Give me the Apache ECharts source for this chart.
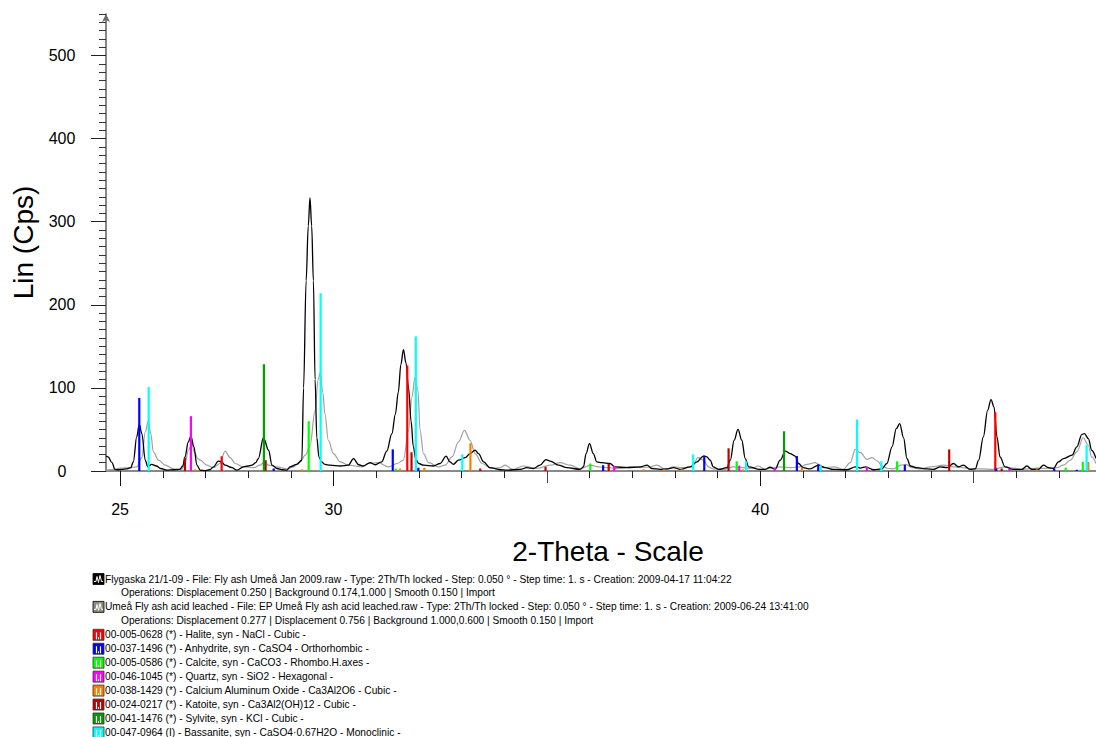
<!DOCTYPE html>
<html><head><meta charset="utf-8">
<script src="https://cdn.jsdelivr.net/npm/echarts@6/dist/echarts.min.js"></script>
<style>html,body{margin:0;padding:0;background:#fff}#c{width:1096px;height:737px}</style>
</head><body><div id="c"></div>
<script>
// ---- axis ranges / ticks ----
const xMin = 24.67, xMax = 47.87;
const yMin = 0, yMax = 550;
const yMinorStep = 10, yMajorStep = 100;
const xMinorTicks = [25,26,27,28,29,30,31,32,33,34,35,36,37,38,39,40,41,42,43,44,45,46,47];
const xMidTicks = [35,45];
const xMajorTicks = [25,30,40];
const xTickLabels = [25,30,40];
const yTickLabels = [0,100,200,300,400,500];

// ---- measured patterns [2theta, Cps] ----
const flygaska = [[24.67,18],[24.72,17],[24.81,10],[24.88,2],[24.95,1.5],[25.05,2],[25.15,2.5],[25.25,4],[25.31,11],[25.39,41],[25.45,56],[25.51,45],[25.59,13],[25.65,5],[25.74,8],[25.85,6],[25.95,3],[26.1,1],[26.25,1.5],[26.4,2],[26.47,6],[26.52,17],[26.6,35],[26.66,42],[26.73,29],[26.8,7],[26.88,1],[27.0,0.5],[27.1,1.5],[27.19,5],[27.3,12],[27.38,11],[27.46,7],[27.62,4],[27.74,1],[27.89,5],[28.0,6],[28.09,7],[28.18,10],[28.24,15],[28.36,40],[28.48,25],[28.56,7],[28.68,3],[28.8,1.5],[28.91,1],[28.98,5],[29.14,8],[29.26,13],[29.3,100],[29.36,229],[29.41,295],[29.45,329],[29.49,295],[29.53,229],[29.57,110],[29.61,40],[29.66,17],[29.72,11],[29.8,8],[29.92,7],[30.16,6],[30.35,7],[30.47,15],[30.59,7.5],[30.7,6],[30.86,10],[30.98,7.5],[31.13,11],[31.25,24],[31.37,45],[31.45,68],[31.52,95],[31.58,128],[31.64,146],[31.7,130],[31.76,100],[31.82,60],[31.87,30],[31.93,14],[32.0,9],[32.11,7],[32.34,6],[32.5,9],[32.64,18],[32.73,11],[32.81,8],[32.93,13],[33.09,16],[33.2,21],[33.32,25],[33.4,21],[33.52,11],[33.67,4],[33.91,1.5],[34.06,1],[34.38,2],[34.53,4],[34.69,3],[34.84,7],[34.98,13.7],[35.08,12],[35.27,7],[35.47,4],[35.78,2],[35.86,5],[35.92,21],[36.0,33],[36.09,21],[36.17,11],[36.29,10],[36.48,9],[36.6,5],[36.88,4],[37.19,5],[37.35,7],[37.46,3],[37.66,2],[37.81,2.5],[37.97,4],[38.13,2],[38.36,5],[38.52,11],[38.67,18],[38.75,17],[38.83,13],[38.9,5],[39.02,2],[39.22,4],[39.3,13],[39.39,37],[39.48,50],[39.57,37],[39.65,15],[39.73,5],[39.99,2],[40.12,2],[40.23,4.5],[40.35,2],[40.47,13],[40.59,24],[40.7,21],[40.82,18],[40.9,9],[41.01,4],[41.17,2.5],[41.37,7],[41.52,4],[41.72,2],[42.03,1.5],[42.23,5],[42.35,3.5],[42.47,5],[42.66,1.5],[42.85,2.5],[42.97,9],[43.09,29],[43.19,51],[43.27,57],[43.36,40],[43.44,15],[43.52,6],[43.67,4],[43.91,2.5],[44.06,2],[44.22,5],[44.38,4],[44.53,9],[44.65,5],[44.76,7],[44.92,2],[45.04,2.5],[45.12,13],[45.23,41],[45.33,73],[45.41,86],[45.48,77],[45.55,41],[45.62,17],[45.74,5],[45.93,2],[46.13,2],[46.25,6],[46.37,2],[46.52,2],[46.64,7],[46.76,4],[46.87,3],[46.99,11],[47.11,15],[47.31,19],[47.42,29],[47.54,44],[47.6,45],[47.69,39],[47.77,25],[47.87,15]];

const umeaLeached = [[24.67,1],[24.85,2],[25.0,3.5],[25.24,4],[25.39,5],[25.51,16],[25.59,47],[25.66,60],[25.72,45],[25.78,23],[25.9,13],[26.06,7],[26.25,2.5],[26.45,2],[26.52,9],[26.6,25],[26.68,32],[26.75,22],[26.82,15],[26.88,13],[27.03,7],[27.19,4],[27.34,9],[27.46,24],[27.58,16],[27.7,9],[27.89,5],[28.13,4],[28.28,7],[28.38,11],[28.48,7],[28.67,5],[28.91,2.5],[29.06,5],[29.22,11],[29.34,19],[29.45,30],[29.57,73],[29.64,110],[29.69,118],[29.75,95],[29.8,69],[29.88,37],[30.0,21],[30.16,11],[30.35,7],[30.67,5],[30.82,9],[31.05,10],[31.29,5],[31.49,9],[31.64,13],[31.76,49],[31.84,89],[31.91,113],[31.98,97],[32.03,49],[32.11,21],[32.23,10],[32.46,5],[32.62,7],[32.78,17],[32.93,35],[33.07,49],[33.2,37],[33.32,21],[33.48,9],[33.71,3],[33.91,4],[34.02,7],[34.2,2],[34.45,6],[34.76,3],[35.08,7],[35.31,10],[35.55,7],[35.78,2.5],[36.02,7],[36.21,5],[36.41,4],[36.68,3],[36.95,5],[37.19,4],[37.42,5],[37.58,7],[37.77,2],[37.97,5],[38.2,4],[38.4,5],[38.55,16],[38.67,13],[38.79,5],[38.9,2.5],[39.14,2],[39.38,5],[39.61,4],[39.8,3],[39.96,6],[40.12,2],[40.27,4],[40.47,5],[40.7,4],[40.94,5],[41.1,8],[41.29,10],[41.48,4],[41.72,5],[41.95,2],[42.11,10],[42.23,26],[42.35,22],[42.5,14],[42.62,16],[42.75,12],[42.85,6],[43.0,3],[43.12,2.5],[43.3,7],[43.42,8],[43.55,4],[43.75,2.5],[44.0,5],[44.3,7],[44.53,5],[44.76,4],[44.95,2.5],[45.2,2.5],[45.45,2],[45.74,5],[45.93,3.5],[46.13,2],[46.5,3.5],[46.75,3],[46.95,4],[47.11,7],[47.27,13],[47.42,23],[47.57,40],[47.69,31],[47.77,17],[47.87,9]];

// ---- reference patterns (stick positions) ----
const halite = [[27.38,17.7],[31.73,127],[45.51,70.7]];
const anhydrite = [[25.45,88],[28.6,3],[31.39,26],[31.99,4],[36.32,7],[38.69,18.5],[40.86,18],[41.36,8],[43.39,7.5],[45.53,3],[46.89,3],[47.42,1.5]];
const calcite = [[29.42,60],[31.46,3],[36.02,9],[39.45,11.7],[43.21,11.7],[47.16,4],[47.56,11]];
const quartz = [[26.66,66],[36.58,6],[39.51,6.5],[40.34,3],[42.5,5],[45.84,3]];
const caAlOxide = [[26.76,2],[29.26,2],[31.56,3],[32.13,4],[33.21,33.4],[37.27,2],[37.75,2],[38.16,2],[39.6,2],[40.98,4],[46.48,2],[47.69,11]];
const katoite = [[26.52,16],[28.41,13],[31.83,22.5],[33.44,3],[34.97,5],[36.45,8.5],[39.26,27.3],[44.43,26],[45.66,3]];
const sylvite = [[28.37,128.5],[40.56,47.8]];
const bassanite = [[25.67,101],[29.7,214],[31.93,162],[33.02,20],[38.43,20],[39.67,11.7],[41.42,7],[42.27,62],[42.84,11.7],[47.65,31]];

const phaseData = [halite, anhydrite, calcite, quartz, caAlOxide, katoite, sylvite, bassanite];
const phaseColors = ['#FF0000','#0000FF','#00FF00','#FF00FF','#FF8000','#C00000','#009F00','#00FFFF'];
const phaseNames = [
  '00-005-0628 (*) - Halite, syn - NaCl - Cubic -',
  '00-037-1496 (*) - Anhydrite, syn - CaSO4 - Orthorhombic -',
  '00-005-0586 (*) - Calcite, syn - CaCO3 - Rhombo.H.axes -',
  '00-046-1045 (*) - Quartz, syn - SiO2 - Hexagonal -',
  '00-038-1429 (*) - Calcium Aluminum Oxide - Ca3Al2O6 - Cubic -',
  '00-024-0217 (*) - Katoite, syn - Ca3Al2(OH)12 - Cubic -',
  '00-041-1476 (*) - Sylvite, syn - KCl - Cubic -',
  '00-047-0964 (I) - Bassanite, syn - CaSO4·0.67H2O - Monoclinic -'
];
const scanNames = [
  'Flygaska 21/1-09 - File: Fly ash Umeå Jan 2009.raw - Type: 2Th/Th locked - Step: 0.050 ° - Step time: 1. s - Creation: 2009-04-17 11:04:22',
  'Umeå Fly ash acid leached - File: EP Umeå Fly ash acid leached.raw - Type: 2Th/Th locked - Step: 0.050 ° - Step time: 1. s - Creation: 2009-06-24 13:41:00'
];
const scanOps = [
  'Operations: Displacement 0.250 | Background 0.174,1.000 | Smooth 0.150 | Import',
  'Operations: Displacement 0.277 | Displacement 0.756 | Background 1.000,0.600 | Smooth 0.150 | Import'
];
const scanColors = ['#000000','#A0A0A0'];
const scanIconColors = ['#000000','#8C8C80'];

const FONT = 'Liberation Sans, Arial, Helvetica, sans-serif';
const chart = echarts.init(document.getElementById('c'), null, {renderer:'svg'});

function stickSeries(data, color, name) {
  return {
    type: 'custom', name: name, data: data, z: 5, clip: true,
    encode: {x: 0, y: 1},
    renderItem: function (params, api) {
      const p0 = api.coord([api.value(0), 0]);
      const p1 = api.coord([api.value(0), api.value(1)]);
      return {type: 'line', shape: {x1: p0[0], y1: p0[1], x2: p1[0], y2: p1[1]},
              style: {stroke: color, lineWidth: 2.2}};
    }
  };
}

// legend graphics
const legendEls = [];
const LX = 93, LTX = 105, LOX = 121, LY0 = 579, LSTEP = 13.95, LFS = 10.2;
let row = 0;
function zigIcon(x, y, bg) {
  return [
    {type:'rect', shape:{x:x, y:y, width:11, height:11}, style:{fill:bg, stroke:'#000', lineWidth:0.8}},
    {type:'polyline', shape:{points:[[x+1,y+8],[x+3,y+8],[x+4,y+3],[x+5.5,y+9],[x+7,y+2],[x+8.5,y+8],[x+10,y+8]]}, style:{stroke:'#fff', lineWidth:1, fill:null}}
  ];
}
function stickIcon(x, y, col) {
  return [
    {type:'rect', shape:{x:x, y:y, width:11, height:11}, style:{fill:col, stroke:'#333', lineWidth:0.8}},
    {type:'line', shape:{x1:x+3.5, y1:y+3, x2:x+3.5, y2:y+10}, style:{stroke:'#fff', lineWidth:1.2}},
    {type:'line', shape:{x1:x+7.5, y1:y+3, x2:x+7.5, y2:y+10}, style:{stroke:'#fff', lineWidth:1.2}},
    {type:'line', shape:{x1:x+5.5, y1:y+8, x2:x+5.5, y2:y+10}, style:{stroke:'#fff', lineWidth:1}}
  ];
}
for (let i = 0; i < scanNames.length; i++) {
  const cy = LY0 + row * LSTEP;
  legendEls.push(...zigIcon(LX, cy - 5.5, scanIconColors[i]));
  legendEls.push({type:'text', x: LTX, y: cy, style:{text: scanNames[i], fill:'#000', font: LFS + 'px ' + FONT, verticalAlign:'middle'}});
  row++;
  const cy2 = LY0 + row * LSTEP;
  legendEls.push({type:'text', x: LOX, y: cy2, style:{text: scanOps[i], fill:'#000', font: LFS + 'px ' + FONT, verticalAlign:'middle'}});
  row++;
}
for (let i = 0; i < phaseNames.length; i++) {
  const cy = LY0 + row * LSTEP;
  legendEls.push(...stickIcon(LX, cy - 5.5, phaseColors[i]));
  legendEls.push({type:'text', x: LTX, y: cy, style:{text: phaseNames[i], fill:'#000', font: LFS + 'px ' + FONT, verticalAlign:'middle'}});
  row++;
}

// grid 0 holds the data; grid 1 shares the same bottom and pixel scale but
// ends at 500, so its 100-step major y ticks stop at the last labelled value.
const G_TOP = 14, G_BOTTOM = 266, H = 737;
const pxPerUnit = (H - G_TOP - G_BOTTOM) / (yMax - yMin);
const majorAxisMax = 500;
const g1Top = (H - G_BOTTOM) - majorAxisMax * pxPerUnit;

const baseX = {type:'value', min:xMin, max:xMax, position:'bottom', gridIndex:0, splitLine:{show:false}};
const option = {
  animation: false,
  backgroundColor: '#fff',
  textStyle: {fontFamily: FONT},
  grid: [
    {left: 106, right: 0, top: G_TOP, bottom: G_BOTTOM, containLabel: false},
    {left: 106, right: 0, top: g1Top, bottom: G_BOTTOM, containLabel: false}
  ],
  xAxis: [
    Object.assign({}, baseX, {
      name: '2-Theta - Scale', nameLocation: 'middle', nameGap: 66,
      nameTextStyle: {fontSize: 28, color: '#000', fontFamily: FONT, padding: [0,0,0,14]},
      axisLine: {show: true, onZero: false, lineStyle: {color: '#8a8a8a', width: 2}},
      axisTick: {show: true, inside: false, length: 7, customValues: xMinorTicks, lineStyle: {color: '#222', width: 1}},
      axisLabel: {show: true, customValues: xTickLabels, margin: 30, fontSize: 16, color: '#000', fontFamily: FONT}
    }),
    Object.assign({}, baseX, {
      axisLine: {show: false}, axisLabel: {show: false},
      axisTick: {show: true, length: 12, customValues: xMidTicks, lineStyle: {color: '#444', width: 1}}
    }),
    Object.assign({}, baseX, {
      axisLine: {show: false}, axisLabel: {show: false},
      axisTick: {show: true, length: 15, customValues: xMajorTicks, lineStyle: {color: '#111', width: 1}}
    }),
    {type:'value', gridIndex: 1, min: 0, max: 1, show: false}
  ],
  yAxis: [
    {
      type: 'value', min: yMin, max: yMax, interval: yMajorStep, position: 'left', gridIndex: 0,
      name: 'Lin (Cps)', nameLocation: 'middle', nameGap: 65,
      nameTextStyle: {fontSize: 28, color: '#000', fontFamily: FONT},
      splitLine: {show: false},
      axisLine: {show: true, onZero: false, symbol: ['none','arrow'], symbolSize: [6, 8], lineStyle: {color: '#6a6a6a', width: 1.6}},
      axisTick: {show: false},
      axisLabel: {show: true, customValues: yTickLabels, margin: 44, align: 'center', fontSize: 16, color: '#000', fontFamily: FONT, padding: [8,0,0,0]}
    },
    {
      type: 'value', min: yMin, max: yMax, interval: yMinorStep, position: 'left', gridIndex: 0,
      splitLine: {show: false}, axisLine: {show: false}, axisLabel: {show: false},
      axisTick: {show: true, inside: false, length: 7, lineStyle: {color: '#333', width: 1}}
    },
    {
      type: 'value', min: 0, max: majorAxisMax, interval: yMajorStep, position: 'left', gridIndex: 1,
      splitLine: {show: false}, axisLine: {show: false}, axisLabel: {show: false},
      axisTick: {show: true, inside: false, length: 15, lineStyle: {color: '#222', width: 1}}
    }
  ],
  graphic: legendEls,
  series: [
    {type: 'line', name: 'Umeå Fly ash acid leached', data: umeaLeached, smooth: 0.35, smoothMonotone: 'x', showSymbol: false,
     lineStyle: {color: scanColors[1], width: 1.2}, z: 2, clip: true},
    {type: 'line', name: 'Flygaska 21/1-09', data: flygaska, smooth: 0.35, smoothMonotone: 'x', showSymbol: false,
     lineStyle: {color: scanColors[0], width: 1.3}, z: 3, clip: true}
  ].concat(phaseData.map((d, i) => stickSeries(d, phaseColors[i], phaseNames[i])))
};
chart.setOption(option);
</script></body></html>
